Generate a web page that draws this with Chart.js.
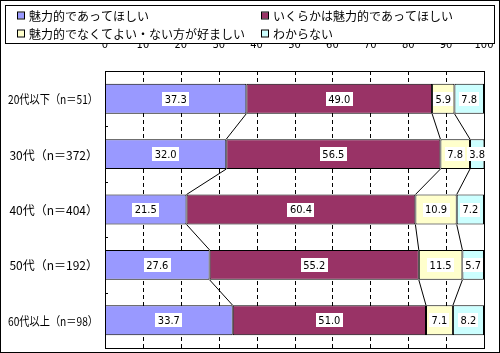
<!DOCTYPE html>
<html lang="ja">
<head>
  <meta charset="UTF-8" />
  <title>魅力的であってほしいか（年代別）</title>
  <script src="https://cdn.jsdelivr.net/npm/chart.js@4"></script>
  <style>
    body { margin: 0; background: #fff; }
    #chart { display: block; }
  </style>
</head>
<body>
  <canvas id="chart" width="500" height="353"></canvas>

  <script>
    const categories = ['20代以下（n＝51）', '30代（n＝372）', '40代（n＝404）', '50代（n＝192）', '60代以上（n＝98）'];
    const seriesNames = ['魅力的であってほしい', 'いくらかは魅力的であってほしい', '魅力的でなくてよい・ない方が好ましい', 'わからない'];
    const attractive = [37.3, 32.0, 21.5, 27.6, 33.7];
    const somewhat = [49.0, 56.5, 60.4, 55.2, 51.0];
    const notNeeded = [5.9, 7.8, 10.9, 11.5, 7.1];
    const dontKnow = [7.8, 3.8, 7.2, 5.7, 8.2];
    const xTicks = [0, 10, 20, 30, 40, 50, 60, 70, 80, 90, 100];

    const colors = ['#9999FF', '#993366', '#FFFFCC', '#CCFFFF'];
    const jpFont = '"Noto Sans CJK JP", "Noto Sans", sans-serif';
    const numFont = '"Liberation Sans Narrow", "DejaVu Sans Condensed", "Liberation Sans", sans-serif';

    // 凡例（枠付き、2列）
    const legendBox = {
      id: 'legendBox',
      afterDraw(chart) {
        const c = chart.ctx;
        c.save();
        c.strokeStyle = '#000';
        c.lineWidth = 1;
        c.strokeRect(5.5, 5.5, 489, 38);
        c.font = '12px ' + jpFont;
        c.textBaseline = 'middle';
        const cols = [18, 262];
        const rows = [15.5, 33.5];
        seriesNames.forEach((name, i) => {
          const x = cols[i % 2];
          const y = rows[Math.floor(i / 2)];
          c.fillStyle = colors[i];
          c.fillRect(x, y - 3, 6, 6);
          c.strokeRect(x - 0.5, y - 3.5, 7, 7);
          c.fillStyle = '#000';
          c.fillText(name, x + 11, y + 1);
        });
        c.restore();
      }
    };

    // 点線の目盛線（棒の後ろ）
    const dashedGrid = {
      id: 'dashedGrid',
      beforeDatasetsDraw(chart) {
        const c = chart.ctx;
        const a = chart.chartArea;
        const xs = chart.scales.x;
        c.save();
        c.strokeStyle = '#000';
        c.lineWidth = 1;
        c.setLineDash([4, 3]);
        c.beginPath();
        xTicks.slice(1, -1).forEach(v => {
          const x = Math.round(xs.getPixelForValue(v)) + 0.5;
          c.moveTo(x, a.top);
          c.lineTo(x, a.bottom);
        });
        c.stroke();
        c.restore();
      }
    };

    // 枠線・区分線・目盛り・項目名
    const frame = {
      id: 'frame',
      afterDatasetsDraw(chart) {
        const c = chart.ctx;
        const a = chart.chartArea;
        const xs = chart.scales.x;
        const ys = chart.scales.y;
        c.save();
        c.strokeStyle = '#000';
        c.lineWidth = 1;

        // 区分線
        const stacks = [attractive, somewhat, notNeeded];
        const cum = categories.map(() => 0);
        stacks.forEach((s, k) => {
          s.forEach((v, i) => { cum[i] += v; });
          const bars = chart.getDatasetMeta(k).data;
          c.beginPath();
          for (let i = 0; i < categories.length - 1; i++) {
            const b0 = bars[i], b1 = bars[i + 1];
            c.moveTo(xs.getPixelForValue(cum[i]), b0.y + b0.height / 2);
            c.lineTo(xs.getPixelForValue(cum[i + 1]), b1.y - b1.height / 2);
          }
          c.stroke();
        });

        // 内向きの目盛り
        c.beginPath();
        for (let i = 1; i < categories.length; i++) {
          const y = Math.round((ys.getPixelForValue(i - 1) + ys.getPixelForValue(i)) / 2) + 0.5;
          c.moveTo(a.left, y);
          c.lineTo(a.left + 3, y);
        }
        c.stroke();

        c.strokeRect(Math.round(a.left) + 0.5, Math.round(a.top) + 0.5,
          Math.round(a.right - a.left), Math.round(a.bottom - a.top));
        c.strokeRect(0.5, 0.5, 499, 352);

        // 項目名（幅を詰めて右揃え）
        c.font = '12px ' + jpFont;
        c.fillStyle = '#000';
        c.textAlign = 'right';
        c.textBaseline = 'middle';
        categories.forEach((lab, i) => {
          c.fillText(lab, a.left - 7, ys.getPixelForValue(i) + 1, 90);
        });
        c.restore();
      }
    };

    // 値ラベル（白地）
    const valueLabels = {
      id: 'valueLabels',
      afterDraw(chart) {
        const c = chart.ctx;
        c.save();
        c.font = '11px ' + numFont;
        c.textAlign = 'center';
        c.textBaseline = 'middle';
        chart.data.datasets.forEach((ds, k) => {
          chart.getDatasetMeta(k).data.forEach((bar, i) => {
            const txt = ds.data[i].toFixed(1);
            const cx = (bar.x + bar.base) / 2;
            const w = Math.ceil(c.measureText(txt).width) + 4;
            const h = 14;
            c.fillStyle = '#fff';
            c.fillRect(Math.round(cx - w / 2), Math.round(bar.y - h / 2), w, h);
            c.fillStyle = '#000';
            c.fillText(txt, cx, bar.y + 1);
          });
        });
        c.restore();
      }
    };

    const ctx = document.getElementById('chart').getContext('2d');
    const chart = new Chart(ctx, {
      type: 'bar',
      data: {
        labels: categories,
        datasets: [attractive, somewhat, notNeeded, dontKnow].map((d, i) => ({
          label: seriesNames[i],
          data: d,
          backgroundColor: colors[i],
          borderColor: '#000',
          borderWidth: 1,
          borderSkipped: false,
          barPercentage: 0.54,
          categoryPercentage: 1
        }))
      },
      options: {
        indexAxis: 'y',
        responsive: false,
        animation: false,
        layout: { padding: { left: 0, top: 44, right: 16, bottom: 5 } },
        plugins: {
          legend: { display: false },
          tooltip: { enabled: false }
        },
        scales: {
          x: {
            position: 'top',
            stacked: true,
            min: 0,
            max: 100,
            afterFit: s => { s.height = 27; s.paddingLeft = 0; s.paddingRight = 0; },
            afterBuildTicks: s => { s.ticks = xTicks.map(v => ({ value: v })); },
            ticks: {
              padding: 11,
              color: '#000',
              font: { family: numFont, size: 11 }
            },
            grid: { display: false },
            border: { display: false }
          },
          y: {
            stacked: true,
            afterFit: s => { s.width = 105; },
            ticks: { display: false },
            grid: { display: false },
            border: { display: false }
          }
        }
      },
      plugins: [dashedGrid, legendBox, frame, valueLabels]
    });
  </script>
</body>
</html>
